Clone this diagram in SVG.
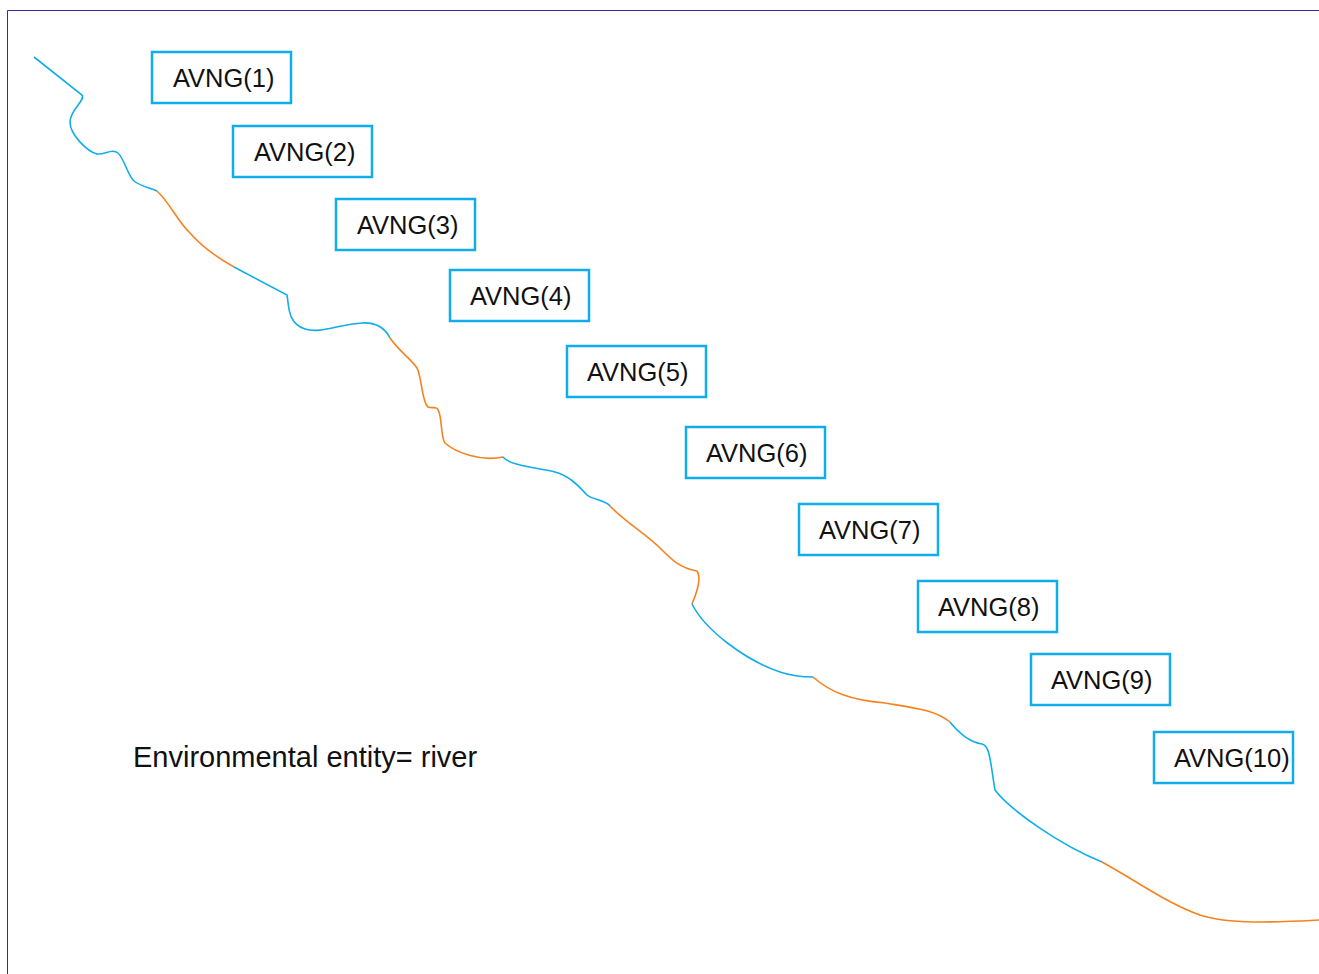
<svg xmlns="http://www.w3.org/2000/svg" width="1319" height="974" viewBox="0 0 1319 974">
<style>
.box rect{fill:#fff;stroke:#10ADEC;stroke-width:2.5}
.box text{font-family:"Liberation Sans",Arial,sans-serif;font-size:25.5px;fill:#111}
.b{fill:none;stroke:#10ADEC;stroke-width:1.6}
.o{fill:none;stroke:#F5821F;stroke-width:1.6}
</style>
<rect x="0" y="0" width="1319" height="974" fill="#fff"/>
<g id="frame"><path d="M7.5,974 V10.5 H1319" fill="none" stroke="#2e3192" stroke-width="1"/></g>
<g id="river">
<path class="b" d="M34,57 L82,95 C86,100 70,110 70,122 C70,135 88,152 97,154 C105,155 112,148 118,153 C124,158 128,176 134,181 C140,186 150,188 157,191"/>
<path class="o" d="M157,191 C170,203 178,222 190,233 C203,248 218,258 234,267"/>
<path class="b" d="M234,267 L287,295 C289,305 287,323 305,329 C320,334 340,324 362,323 C378,322 386,330 390,338"/>
<path class="o" d="M390,338 C398,350 412,360 417,368 C422,378 422,403 428,407 C433,409 437,405 439,412 C442,420 441,438 445,443 C455,452 480,462 503,457"/>
<path class="b" d="M503,457 C510,466 540,468 555,472 C572,477 580,488 587,495 C593,500 606,500 610,506"/>
<path class="o" d="M610,506 C625,522 645,533 660,548 C672,560 680,568 697,571 C700,575 700,585 692,604"/>
<path class="b" d="M692,604 C705,630 745,660 780,672 C795,677 805,677 813,677"/>
<path class="o" d="M813,677 C830,692 850,700 885,703 C915,708 935,710 950,722"/>
<path class="b" d="M950,722 C958,732 968,742 982,744 C990,746 990,760 995,790 C1010,810 1060,845 1102,862"/>
<path class="o" d="M1102,862 C1140,883 1170,905 1200,915 C1230,925 1280,922 1319,920"/>
</g>
<g id="n1" class="box"><rect x="152" y="52" width="139" height="51"/><text x="173" y="87">AVNG(1)</text></g>
<g id="n2" class="box"><rect x="233" y="126" width="139" height="51"/><text x="254" y="161">AVNG(2)</text></g>
<g id="n3" class="box"><rect x="336" y="199" width="139" height="51"/><text x="357" y="234">AVNG(3)</text></g>
<g id="n4" class="box"><rect x="450" y="270" width="139" height="51"/><text x="470" y="305">AVNG(4)</text></g>
<g id="n5" class="box"><rect x="567" y="346" width="139" height="51"/><text x="587" y="381">AVNG(5)</text></g>
<g id="n6" class="box"><rect x="686" y="427" width="139" height="51"/><text x="706" y="462">AVNG(6)</text></g>
<g id="n7" class="box"><rect x="799" y="504" width="139" height="51"/><text x="819" y="539">AVNG(7)</text></g>
<g id="n8" class="box"><rect x="918" y="581" width="139" height="51"/><text x="938" y="616">AVNG(8)</text></g>
<g id="n9" class="box"><rect x="1031" y="654" width="139" height="51"/><text x="1051" y="689">AVNG(9)</text></g>
<g id="n10" class="box"><rect x="1154" y="732" width="139" height="51"/><text x="1174" y="767">AVNG(10)</text></g>
<text id="label" x="133" y="767" font-family="Liberation Sans,Arial,sans-serif" font-size="29" fill="#111">Environmental entity= river</text>
</svg>
